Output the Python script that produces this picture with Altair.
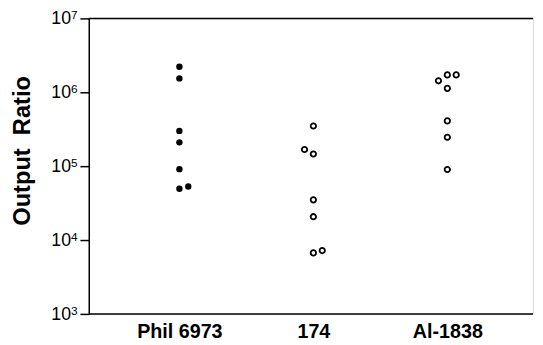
import altair as alt
import pandas as pd

groups = ["Phil 6973", "174", "Al-1838"]
phil_vals = [2.22e6, 1.54e6, 3.0e5, 2.1e5, 9.1e4, 4.95e4, 5.3e4]
phil_slot = [0, 0, 0, 0, 0, 0, 1]
s174_vals = [3.5e5, 1.68e5, 1.46e5, 3.5e4, 2.07e4, 6.7e3, 7.2e3]
s174_slot = [0, -1, 0, 0, 0, 0, 1]
al_vals = [1.72e6, 1.72e6, 1.43e6, 1.13e6, 4.1e5, 2.46e5, 9.0e4]
al_slot = [0, 1, -1, 0, 0, 0, 0]
filled = {"Phil 6973": "filled", "174": "open", "Al-1838": "open"}

tick_vals = [1e3, 1e4, 1e5, 1e6, 1e7]
tick_exps = ["3", "4", "5", "6", "7"]
frame_vals = [1e3, 1e7]

rows = []
for g, vals, slots in [("Phil 6973", phil_vals, phil_slot),
                       ("174", s174_vals, s174_slot),
                       ("Al-1838", al_vals, al_slot)]:
    for v, s in zip(vals, slots):
        rows.append({"group": g, "ratio": v, "slot": s, "style": filled[g]})
df = pd.DataFrame(rows)
ticks_df = pd.DataFrame({"v": tick_vals, "base": ["10"] * len(tick_vals), "exp": tick_exps})

yscale = alt.Scale(type="log", domain=[1e3, 1e7])

x = alt.X("group:N", sort=groups, title=None,
          scale=alt.Scale(type="point", range=[92, 364], padding=0),
          axis=alt.Axis(labelAngle=0, labelFont="Liberation Sans", labelFontWeight="bold",
                        labelFontSize=20, labelColor="black", ticks=False, domain=False,
                        labelPadding=8, grid=False))
y = alt.Y("ratio:Q", title="Output\u00a0\u00a0Ratio", scale=yscale,
          axis=alt.Axis(values=tick_vals, labels=False,
                        tickColor="black", tickSize=9, tickWidth=1.5, domainColor="black",
                        domainWidth=1.5, grid=False,
                        titleFont="Liberation Sans", titleFontSize=24, titleFontWeight="bold",
                        titleColor="black", titleX=-67, titleY=134, titleAngle=-90,
                        titleAlign="center", titleBaseline="middle"))
xoff = alt.XOffset("slot:Q", scale=alt.Scale(domain=[-1, 1], range=[-9, 9]))

base = alt.Chart(df)
filled_pts = base.transform_filter("datum.style == 'filled'").mark_circle(
    size=42, color="black", opacity=1).encode(x=x, y=y, xOffset=xoff)
open_pts = base.transform_filter("datum.style == 'open'").mark_point(
    shape="circle", size=30, color="black", filled=False, strokeWidth=1.8, opacity=1
).encode(x=x, y=y, xOffset=xoff)
frame = alt.Chart(pd.DataFrame({"v": frame_vals})).mark_rule(color="black", strokeWidth=1.5).encode(
    y=alt.Y("v:Q", scale=yscale))

tick_base = alt.Chart(ticks_df).mark_text(
    align="right", baseline="middle", font="Liberation Sans", fontSize=18, color="black", dy=1
).encode(x=alt.value(-18), y=alt.Y("v:Q", scale=yscale), text="base:N")
tick_exp = alt.Chart(ticks_df).mark_text(
    align="left", baseline="alphabetic", font="Liberation Sans", fontSize=12, color="black", dy=1
).encode(x=alt.value(-18), y=alt.Y("v:Q", scale=yscale), text="exp:N")

chart = alt.layer(filled_pts, open_pts, frame, tick_base, tick_exp).properties(
    width=451, height=300,
    autosize=alt.AutoSizeParams(type="none"),
    padding={"left": 82, "top": 8, "right": 2, "bottom": 29},
).configure_view(stroke=None).configure(background="white")

chart.save("out.html", embed_options={"renderer": "svg", "actions": False})
